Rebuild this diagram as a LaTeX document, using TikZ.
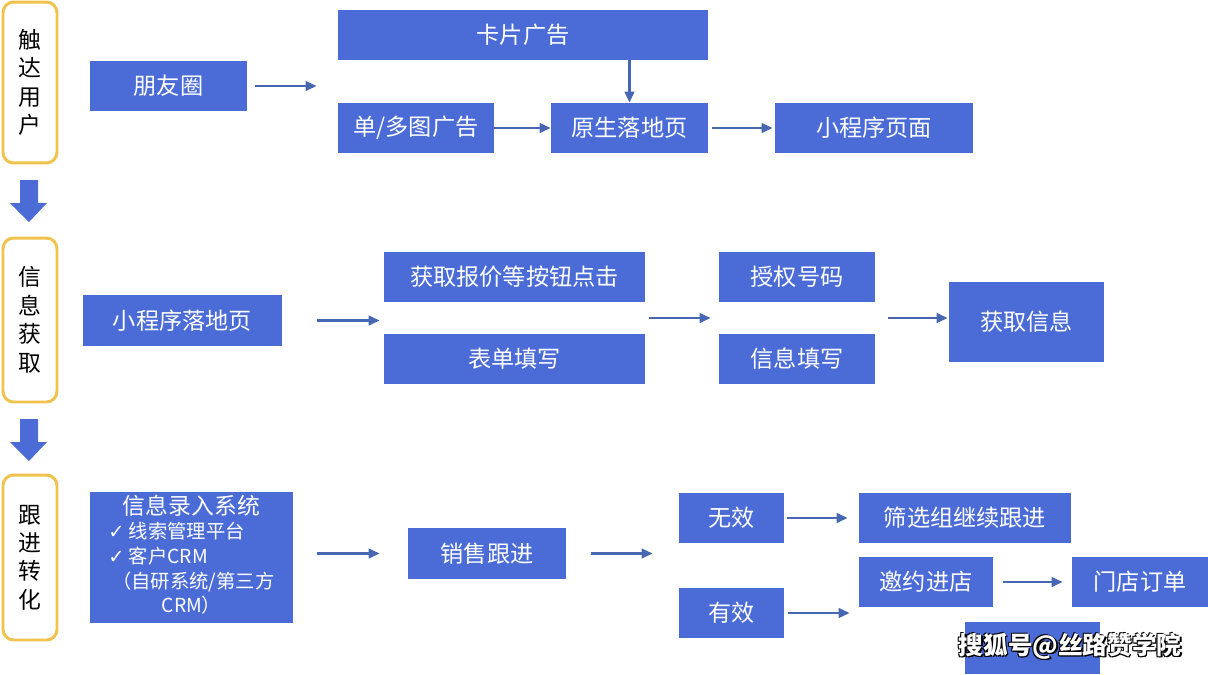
\documentclass[tikz,border=0pt]{standalone}
\usepackage{fontspec}
\setmainfont{Noto Sans CJK SC}
\newfontfamily\symfont{DejaVu Sans}
\usetikzlibrary{arrows.meta, positioning, calc}
\definecolor{flowblue}{HTML}{4B6CD7}
\definecolor{linkblue}{HTML}{4767B3}
\definecolor{phaseyellow}{HTML}{F0C24E}

\begin{document}
\begin{tikzpicture}[x=0.02cm, y=-0.02cm, >={Triangle[length=2.2mm, width=1.9mm]},
  box/.style={fill=flowblue, text=white, inner sep=0pt, minimum height=1cm, font=\fontsize{13.2}{16}\selectfont},
  phase/.style={draw=phaseyellow, line width=1.7pt, rounded corners=6pt, fill=white, inner sep=0pt,
    minimum width=1.08cm, align=center, font=\fontsize{13}{16.2}\selectfont},
  link/.style={draw=linkblue, line width=1.4pt, ->},
  markfont/.style={font=\fontsize{14}{16}\selectfont\bfseries}]

\useasboundingbox (0,0) rectangle (1208,674);

% Phases on the left
\node[phase, minimum height=3.22cm] (touch) at (30,82.5) {触\\达\\用\\户};
\node[phase, minimum height=3.28cm] (obtain) at (30,320) {信\\息\\获\\取};
\node[phase, minimum height=3.30cm] (convert) at (30,557.5) {跟\\进\\转\\化};

% Block arrows between phases
\foreach \top in {180,419}
  \fill[flowblue] (20,\top) -- ++(18,0) -- ++(0,23) -- ++(9,0) -- ++(-18,19) -- ++(-19,-19) -- ++(10,0) -- cycle;

% Row 1: reaching users
\node[box, minimum width=3.14cm] (pengyou) at (168.5,86) {朋友圈};
\node[box, minimum width=7.4cm] (kapian) at (523,35) {卡片广告};
\node[box, minimum width=3.12cm] (duotu) at (416,128) {单/多图广告};
\node[box, minimum width=3.14cm] (yuansheng) at (629.5,128) {原生落地页};
\node[box, minimum width=3.96cm] (xcxpage) at (874,128) {小程序页面};

\draw[link, shorten <=1.6mm, shorten >=4.2mm] (pengyou.east) -- (pengyou.east -| duotu.west);
\draw[link] (kapian.south -| yuansheng.north) -- (yuansheng.north);
\draw[link] (duotu) -- (yuansheng);
\draw[link, shorten <=0.8mm, shorten >=0.4mm] (yuansheng) -- (xcxpage);

% Row 2: collecting information
\node[box, minimum width=3.98cm, minimum height=1.02cm] (xcxland) at (182.5,320.5) {小程序落地页};
\node[box, minimum width=5.22cm] (quote) at (514.5,277) {获取报价等按钮点击};
\node[box, minimum width=5.22cm] (form) at (514.5,359) {表单填写};
\node[box, minimum width=3.12cm] (auth) at (797,277) {授权号码};
\node[box, minimum width=3.12cm] (fillin) at (797,359) {信息填写};
\node[box, minimum width=3.1cm, minimum height=1.6cm] (getinfo) at (1026.5,322) {获取信息};

\coordinate (leftgrp) at ($(quote.east)!.5!(form.east)$);
\coordinate (midgrp) at ($(auth.west)!.5!(fillin.west)$);
\coordinate (rightgrp) at ($(auth.east)!.5!(fillin.east)$);

\draw[link, shorten <=7mm, shorten >=0.8mm] (xcxland.east) -- (xcxland.east -| quote.west);
\draw[link, shorten <=0.8mm, shorten >=1.6mm] (leftgrp) -- (midgrp);
\draw[link, shorten <=2.6mm, shorten >=0.2mm] (rightgrp) -- (rightgrp -| getinfo.west);

% Row 3: follow-up and conversion
\node[box, minimum width=4.06cm, minimum height=2.62cm, font=\fontsize{11}{14}\selectfont] (entry) at (191.5,557.5) {%
  \begin{tabular}{@{}l@{}}
  \multicolumn{1}{@{}c@{}}{\fontsize{13}{15}\selectfont 信息录入系统}\\
  {\symfont ✓} 线索管理平台\\
  {\symfont ✓} 客户CRM\\
  \hspace{0.2em}（自研系统/第三方\\
  \multicolumn{1}{@{}c@{}}{CRM）}
  \end{tabular}};
\node[box, minimum width=3.16cm, minimum height=1.02cm] (sales) at (487,553.5) {销售跟进};
\node[box, minimum width=2.1cm] (invalid) at (731.5,518) {无效};
\node[box, minimum width=2.1cm] (valid) at (731.5,613) {有效};
\node[box, minimum width=4.24cm] (screen) at (965,518) {筛选组继续跟进};
\node[box, minimum width=2.68cm] (invite) at (926,582) {邀约进店};
\node[box, minimum width=2.72cm] (store) at (1140,582) {门店订单};
\node[box, minimum width=2.7cm, minimum height=1.04cm] (hidden) at (1032.5,648) {};

\draw[link, shorten <=4.8mm, shorten >=5.6mm] (entry.east |- sales.west) -- (sales.west);
\draw[link, shorten <=5mm, shorten >=5.2mm] (sales.east) -- (sales.east -| invalid.west);
\draw[link, shorten <=0.6mm, shorten >=2.2mm] (invalid) -- (screen);
\draw[link, shorten <=0.8mm, shorten >=1.8mm] (valid.east) -- (valid.east -| invite.west);
\draw[link, shorten <=2mm, shorten >=1.8mm] (invite) -- (store);

% Watermark (white with a dark rim)
\foreach \dx/\dy [count=\i] in {-1/1, 1/1, 1.5/1.5, -1/-0.5}
  \node[markfont, text=black] (markshadow\i) at (1070+\dx,646+\dy) {搜狐号@丝路赞学院};
\node[markfont, text=white] (mark) at (1070,646) {搜狐号@丝路赞学院};

\end{tikzpicture}
\end{document}
